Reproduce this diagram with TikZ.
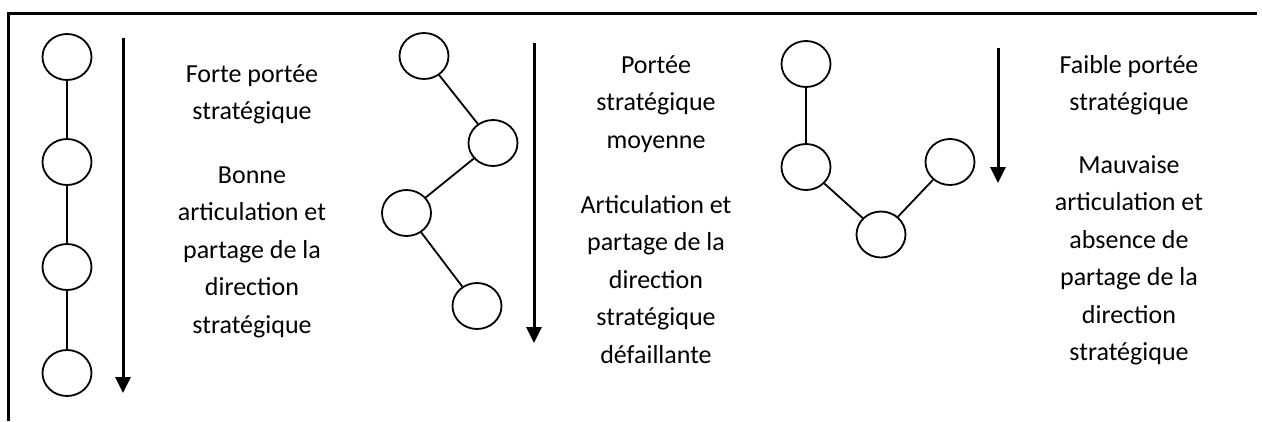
\documentclass[tikz,border=0pt]{standalone}
\usepackage{fontspec}
\setmainfont{Carlito}
\usetikzlibrary{shapes.geometric,arrows.meta}
\begin{document}
\begin{tikzpicture}[x=1pt,y=-1pt,
  ring/.style={ellipse,draw,line width=1.8pt,minimum width=49pt,minimum height=46pt,inner sep=0pt},
  link/.style={line width=1.8pt},
  flow/.style={line width=3pt,-{Triangle[width=15pt,length=16pt]}},
  label/.style={align=center,inner sep=0pt,anchor=north,yshift=26.25pt,font=\fontsize{26}{37.5}\selectfont}]
\useasboundingbox (0,0) rectangle (1262,421);
\draw[line width=3pt] (8.7,421) -- (8.7,13.5) -- (1257,13.5);
% left column
\node[ring] (l1) at (67,57) {};
\node[ring] (l2) at (67,162) {};
\node[ring] (l3) at (67,267) {};
\node[ring] (l4) at (67,373) {};
\draw[link] (l1) -- (l2);
\draw[link] (l2) -- (l3);
\draw[link] (l3) -- (l4);
\coordinate (la) at (123,38);
\coordinate (lb) at (123,393);
\draw[flow] (la) -- (lb);
\node[label] (t1) at (252,82) {\strut Forte portée\\stratégique};
\node[label] (t2) at (252,183) {\strut Bonne\\articulation et\\partage de la\\direction\\stratégique};
% middle column
\node[ring] (m1) at (424,56) {};
\node[ring] (m2) at (493,143) {};
\node[ring] (m3) at (406.5,213) {};
\node[ring] (m4) at (477,306) {};
\draw[link] (m1) -- (m2);
\draw[link] (m2) -- (m3);
\draw[link] (m3) -- (m4);
\coordinate (ma) at (534,43);
\coordinate (mb) at (534,343);
\draw[flow] (ma) -- (mb);
\node[label] (t3) at (656,73) {\strut Portée\\stratégique\\moyenne};
\node[label] (t4) at (656,213) {\strut Articulation et\\partage de la\\direction\\stratégique\\défaillante};
% right column
\node[ring] (r1) at (806,64) {};
\node[ring] (r2) at (806,167) {};
\node[ring] (r3) at (881,234.5) {};
\node[ring] (r4) at (950,162) {};
\draw[link] (r1) -- (r2);
\draw[link] (r2) -- (r3);
\draw[link] (r3) -- (r4);
\coordinate (ra) at (998,48);
\coordinate (rb) at (998,183);
\draw[flow] (ra) -- (rb);
\node[label] (t5) at (1129,73) {\strut Faible portée\\stratégique};
\node[label] (t6) at (1129,173) {\strut Mauvaise\\articulation et\\absence de\\partage de la\\direction\\stratégique};
\end{tikzpicture}
\end{document}
